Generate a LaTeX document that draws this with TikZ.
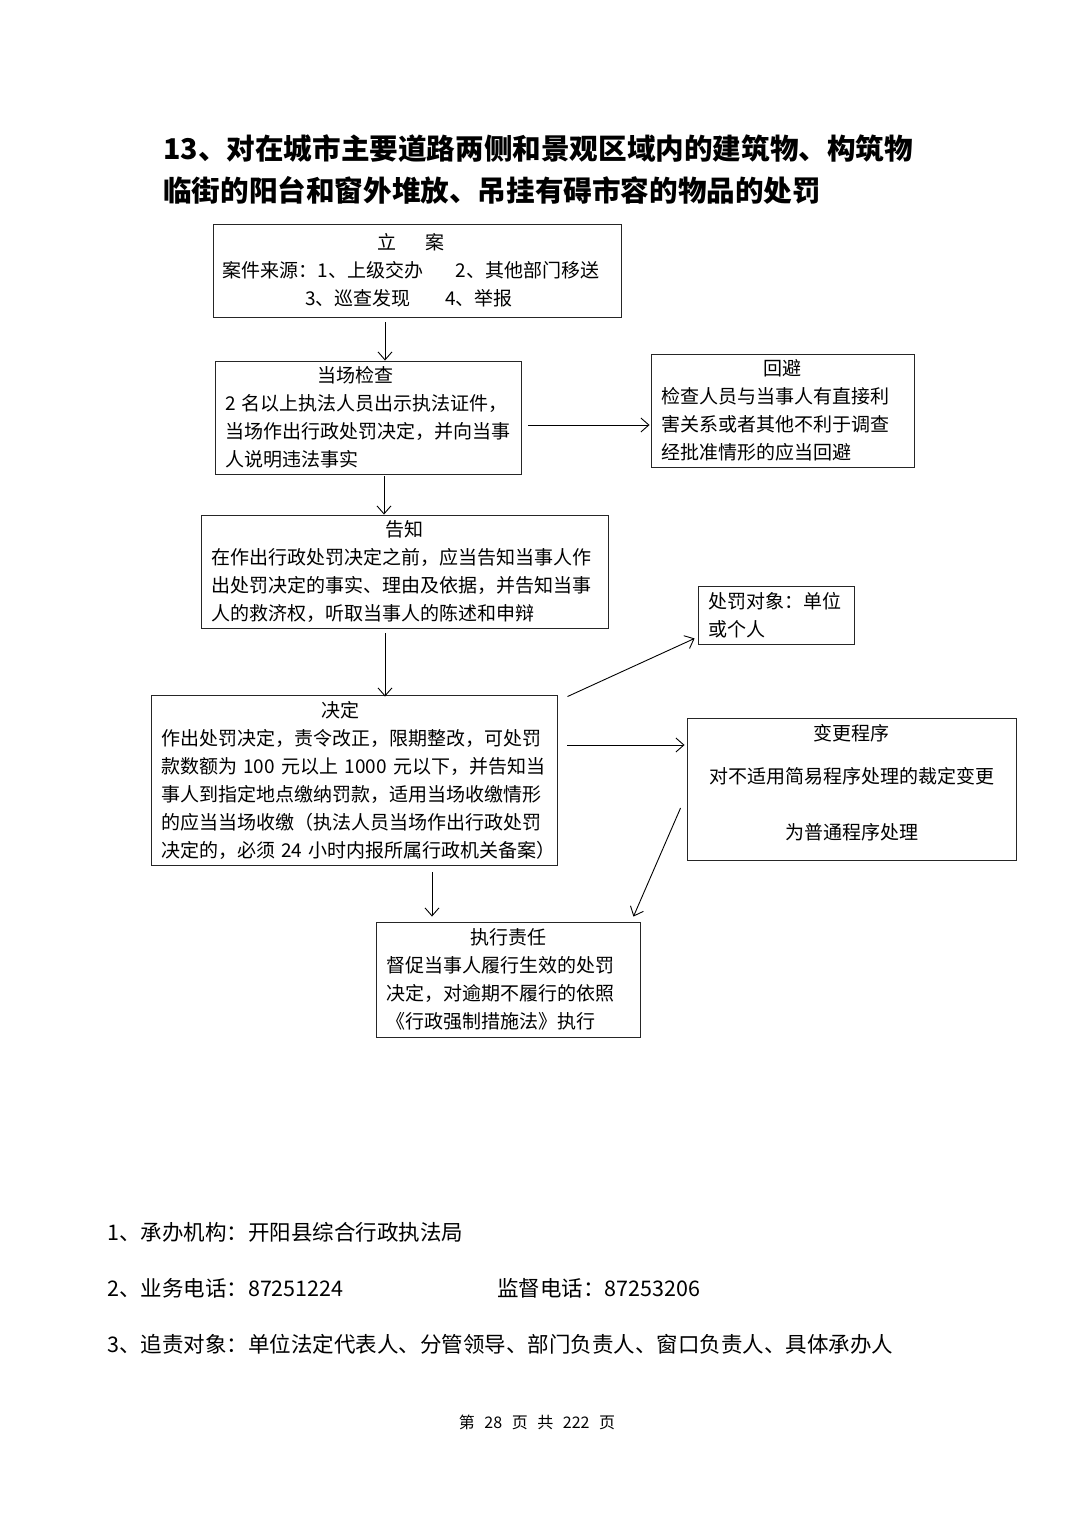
\documentclass[tikz,border=0pt]{standalone}
\usepackage{fontspec}
\setmainfont{Noto Sans CJK SC}
\usetikzlibrary{arrows.meta}
\begin{document}
\begin{tikzpicture}[x=1pt,y=-1pt,
  box/.style={draw=black!85, line width=0.9pt, inner xsep=10pt, inner ysep=0pt, align=left,
    font=\fontsize{19pt}{28pt}\selectfont},
  arr/.style={line width=0.9pt, -{Straight Barb[length=8pt,width=14pt]}},
  foot/.style={anchor=base west, inner sep=0pt, font=\fontsize{21.5pt}{26pt}\selectfont},
  ttl/.style={anchor=base west, inner sep=0pt, font=\fontsize{28.6pt}{34pt}\selectfont\bfseries}]
\useasboundingbox (0,0) rectangle (1074,1520);
\fill[white] (0,0) rectangle (1074,1520);

% title
\node[ttl] (t1) at (163,159) {13、对在城市主要道路两侧和景观区域内的建筑物、构筑物};
\node[ttl] (t2) at (163,201) {临街的阳台和窗外堆放、吊挂有碍市容的物品的处罚};

% boxes
\node[box, align=center, text width=388pt, minimum height=93pt] (b1) at (417,270.5)
  {\hspace*{-12pt}立\hspace{1.5em}案\\\hspace*{-12pt}案件来源：1、上级交办\hspace{1.7em}2、其他部门移送\\\hspace*{-16pt}3、巡查发现\hspace{1.8em}4、举报};
\node[box, text width=286pt, minimum height=113pt] (b2) at (368,417.5)
  {\makebox[\hsize]{\hspace*{-26pt}当场检查}\\2 名以上执法人员出示执法证件，\\当场作出行政处罚决定，并向当事\\人说明违法事实};
\node[box, text width=243pt, minimum height=113pt] (hb) at (782.5,410.5)
  {\makebox[\hsize]{回避}\\检查人员与当事人有直接利\\害关系或者其他不利于调查\\经批准情形的应当回避};
\node[box, text width=387pt, minimum height=113pt] (b3) at (404.5,571.5)
  {\makebox[\hsize]{告知}\\在作出行政处罚决定之前，应当告知当事人作\\出处罚决定的事实、理由及依据，并告知当事\\人的救济权，听取当事人的陈述和申辩};
\node[box, text width=136pt, minimum height=58pt] (pd) at (776,615)
  {处罚对象：单位\\或个人};
\node[box, text width=386pt, minimum height=170pt] (b4) at (354,780)
  {\makebox[\hsize]{\hspace*{-28pt}决定}\\作出处罚决定，责令改正，限期整改，可处罚\\款数额为~100~元以上~1000~元以下，并告知当\\事人到指定地点缴纳罚款，适用当场收缴情形\\的应当当场收缴（执法人员当场作出行政处罚\\决定的，必须~24~小时内报所属行政机关备案）};
\node[box, align=center, text width=309pt, minimum height=142pt] (bg) at (851.5,789)
  {变更程序\\[15pt]对不适用简易程序处理的裁定变更\\[28pt]为普通程序处理\\[-14pt]\mbox{}};
\node[box, text width=244pt, minimum height=115pt] (b5) at (508,979.5)
  {\makebox[\hsize]{执行责任}\\督促当事人履行生效的处罚\\决定，对逾期不履行的依照\\《行政强制措施法》执行};

% connectors
\draw[arr] ([xshift=-32pt,yshift=-5pt]b1.south) -- ([xshift=-32pt]b1.south |- b2.north);
\draw[arr] ([xshift=7pt,yshift=-7.5pt]b2.east) -- ([xshift=-1pt,yshift=-7.5pt]b2.east -| hb.west);
\draw[arr] ([xshift=16pt,yshift=-2pt]b2.south) -- ([xshift=16pt]b2.south |- b3.north);
\draw[arr] ([xshift=-19.5pt,yshift=-5pt]b3.south) -- ([xshift=-19.5pt,yshift=-2pt]b3.south |- b4.north);
\draw[arr] ([xshift=10pt,yshift=-2pt]b4.north east) -- ([xshift=-3pt,yshift=6pt]pd.south west);
\draw[arr] ([xshift=10pt,yshift=35pt]b4.east) -- ([xshift=-2pt,yshift=35pt]b4.east -| bg.west);
\draw[arr] ([xshift=-6pt,yshift=-19pt]bg.west) -- ([xshift=-7pt,yshift=5pt]b5.north east);
\draw[arr] ([xshift=78pt,yshift=-7pt]b4.south) -- ([xshift=78pt,yshift=5pt]b4.south |- b5.north);

% footer
\node[foot] (f1) at (107,1240) {1、承办机构：开阳县综合行政执法局};
\node[foot] (f2) at (107,1296) {2、业务电话：87251224};
\node[foot] (f2b) at (497,1296) {监督电话：87253206};
\node[foot] (f3) at (107,1352) {3、追责对象：单位法定代表人、分管领导、部门负责人、窗口负责人、具体承办人};
\node[anchor=base, inner sep=0pt, font=\fontsize{16pt}{20pt}\selectfont] (pg) at (537,1428)
  {第\hspace{0.6em}28\hspace{0.6em}页\hspace{0.6em}共\hspace{0.6em}222\hspace{0.6em}页};
\end{tikzpicture}
\end{document}
